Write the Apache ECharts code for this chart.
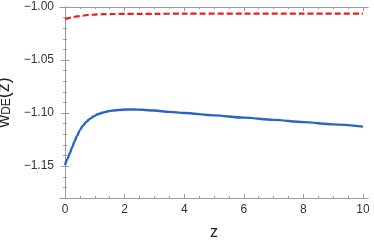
<!DOCTYPE html>
<html><head><meta charset="utf-8">
<script src="https://cdn.jsdelivr.net/npm/echarts@6/dist/echarts.min.js"></script>
<style>html,body{margin:0;padding:0;background:#fff}#c{width:374px;height:242px}</style>
</head><body><div id="c"></div>
<script>
// z values
const zBlue = [0, 0.08, 0.16, 0.24, 0.32, 0.4, 0.5, 0.6, 0.72, 0.84, 0.95, 1.1, 1.28, 1.45, 1.62, 1.8, 2.05, 2.3, 2.6, 3, 3.5, 4, 5, 6, 7, 8, 9, 10];
const wBlue = [-1.1490, -1.1432, -1.1376, -1.1322, -1.1265, -1.1215, -1.1160, -1.1118, -1.1080, -1.1052, -1.1032, -1.1011, -1.0994, -1.0983, -1.0975, -1.0970, -1.0966, -1.0966, -1.0969, -1.0976, -1.0988, -1.0999, -1.1021, -1.1043, -1.1064, -1.1085, -1.1106, -1.1127];
const zRed = [0, 0.2, 0.4, 0.6, 0.8, 1, 1.3, 1.6, 2, 2.5, 3, 4, 6, 8, 10];
const wRed = [-1.0114, -1.0100, -1.0089, -1.0081, -1.0075, -1.0071, -1.0068, -1.0066, -1.0065, -1.0064, -1.0064, -1.0063, -1.0063, -1.0063, -1.0063];
const xTicks = [0, 2, 4, 6, 8, 10];
const yTicks = [-1.15, -1.10, -1.05, -1.00];
const xMin = -0.17, xMax = 10.17, yMin = -1.18, yMax = -1.0;

const xMinor = [];
for (let v = 0; v <= 10.001; v += 0.5) if (Math.abs(v / 2 - Math.round(v / 2)) > 1e-6) xMinor.push(+v.toFixed(2));
const yMinor = [];
for (let v = -1.18; v <= -1.0; v += 0.01) { const r = +v.toFixed(2); if (Math.abs(r * 20 - Math.round(r * 20)) > 1e-6) yMinor.push(r); }

const frame = '#9a9a9a';
const FF = 'Liberation Sans, Arial, sans-serif';
const fmtY = v => '\u2212' + Math.abs(v).toFixed(2);
function xa(pos, ticks, len, labels, extra) {
  return Object.assign({
    type: 'value', position: pos, min: xMin, max: xMax,
    axisLine: { show: true, lineStyle: { color: frame, width: 1 } },
    axisTick: { show: true, inside: true, length: len, customValues: ticks, lineStyle: { color: frame } },
    axisLabel: labels ? { show: true, customValues: xTicks, color: '#333', fontSize: 12, fontFamily: FF, margin: 6 } : { show: false },
    splitLine: { show: false }
  }, extra || {});
}
function ya(pos, ticks, len, labels, extra) {
  return Object.assign({
    type: 'value', position: pos, min: yMin, max: yMax,
    axisLine: { show: true, lineStyle: { color: frame, width: 1 } },
    axisTick: { show: true, inside: true, length: len, customValues: ticks, lineStyle: { color: frame } },
    axisLabel: labels ? { show: true, customValues: yTicks, formatter: fmtY, color: '#333', fontSize: 12, fontFamily: FF, margin: 6 } : { show: false },
    splitLine: { show: false }
  }, extra || {});
}

const chart = echarts.init(document.getElementById('c'), null, { renderer: 'canvas' });
chart.setOption({
  animation: false,
  grid: { left: 60, top: 7, right: 6, bottom: 44, containLabel: false, outerBoundsMode: 'none' },
  xAxis: [
    xa('bottom', xTicks, 4, true, { name: 'z', nameLocation: 'middle', nameGap: 27, nameTextStyle: { color: '#222', fontSize: 16, fontFamily: FF } }),
    xa('bottom', xMinor, 2, false),
    xa('top', xTicks, 4, false),
    xa('top', xMinor, 2, false)
  ],
  yAxis: [
    ya('left', yTicks, 4, true, {
      name: '{w|w}{s|DE}{w|(z)}', nameLocation: 'middle', nameGap: 36, nameRotate: 90,
      nameTextStyle: { fontSize: 18, fontFamily: FF, color: '#222', rich: {
        w: { fontSize: 18, color: '#222', fontFamily: FF, verticalAlign: 'bottom', lineHeight: 20 },
        s: { fontSize: 12, color: '#222', fontFamily: FF, verticalAlign: 'bottom', lineHeight: 18 }
      } }
    }),
    ya('left', yMinor, 2, false),
    ya('right', yTicks, 4, false),
    ya('right', yMinor, 2, false)
  ],
  series: [
    { type: 'line', xAxisIndex: 0, yAxisIndex: 0, showSymbol: false, smooth: 0.3, smoothMonotone: 'x',
      data: zRed.map((z, i) => [z, wRed[i]]),
      lineStyle: { color: '#e8201f', width: 2.2, type: [6, 3] } },
    { type: 'line', xAxisIndex: 0, yAxisIndex: 0, showSymbol: false, smooth: 0.3, smoothMonotone: 'x',
      data: zBlue.map((z, i) => [z, wBlue[i]]),
      lineStyle: { color: '#2a66c6', width: 2.4 } }
  ]
});
</script></body></html>
